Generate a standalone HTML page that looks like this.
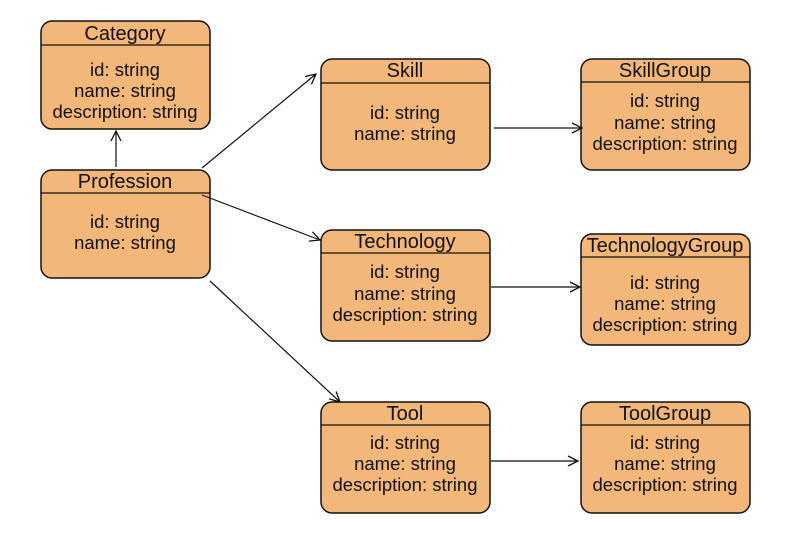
<!DOCTYPE html>
<html><head><style>body{margin:0;background:#fff}svg{display:block}text{font-family:"Liberation Sans",sans-serif;font-size:18.5px;fill:#111;text-anchor:middle}text.t{font-size:20px}</style></head><body>
<svg width="800" height="558" viewBox="0 0 800 558" xmlns="http://www.w3.org/2000/svg">
<defs><marker id="a" markerWidth="12" markerHeight="12" refX="11" refY="6" orient="auto" markerUnits="userSpaceOnUse"><path d="M1,1 L11,6 L1,11" fill="none" stroke="#111" stroke-width="1.3"/></marker></defs>
<g fill="#F4B77A" stroke="#111" stroke-width="1.5">
<rect x="41" y="21" width="169" height="108" rx="11"/>
<rect x="41" y="170" width="169" height="108" rx="11"/>
<rect x="321" y="59" width="169" height="111" rx="11"/>
<rect x="581" y="59" width="169" height="111" rx="11"/>
<rect x="321" y="230" width="169" height="111" rx="11"/>
<rect x="581" y="234" width="169" height="111" rx="11"/>
<rect x="321" y="402" width="169" height="111" rx="11"/>
<rect x="581" y="402" width="169" height="111" rx="11"/>
</g>
<g stroke="#111" stroke-width="1.2">
<line x1="41" y1="45" x2="210" y2="45"/><line x1="41" y1="193" x2="210" y2="193"/>
<line x1="321" y1="83" x2="490" y2="83"/><line x1="581" y1="82" x2="750" y2="82"/>
<line x1="321" y1="253" x2="490" y2="253"/><line x1="581" y1="257" x2="750" y2="257"/>
<line x1="321" y1="425" x2="490" y2="425"/><line x1="581" y1="425" x2="750" y2="425"/>
</g>
<g stroke="#111" stroke-width="1.2" marker-end="url(#a)">
<line x1="116" y1="167" x2="116" y2="131"/>
<line x1="202" y1="168" x2="316" y2="74"/>
<line x1="202" y1="195" x2="320" y2="240"/>
<line x1="210" y1="281" x2="340" y2="402"/>
<line x1="494" y1="128" x2="582" y2="128"/>
<line x1="491" y1="287" x2="580" y2="287"/>
<line x1="491" y1="461" x2="578" y2="461"/>
</g>
<text class="t" x="125" y="40">Category</text><text x="125" y="76">id: string</text><text x="125" y="97">name: string</text><text x="125" y="118">description: string</text>
<text class="t" x="125" y="188">Profession</text><text x="125" y="228">id: string</text><text x="125" y="249">name: string</text>
<text class="t" x="405" y="77">Skill</text><text x="405" y="119">id: string</text><text x="405" y="140">name: string</text>
<text class="t" x="665" y="77">SkillGroup</text><text x="665" y="107">id: string</text><text x="665" y="129">name: string</text><text x="665" y="150">description: string</text>
<text class="t" x="405" y="248">Technology</text><text x="405" y="278">id: string</text><text x="405" y="300">name: string</text><text x="405" y="321">description: string</text>
<text class="t" x="665" y="252">TechnologyGroup</text><text x="665" y="289">id: string</text><text x="665" y="310">name: string</text><text x="665" y="331">description: string</text>
<text class="t" x="405" y="420">Tool</text><text x="405" y="449">id: string</text><text x="405" y="470">name: string</text><text x="405" y="491">description: string</text>
<text class="t" x="665" y="420">ToolGroup</text><text x="665" y="449">id: string</text><text x="665" y="470">name: string</text><text x="665" y="491">description: string</text>
</svg></body></html>
